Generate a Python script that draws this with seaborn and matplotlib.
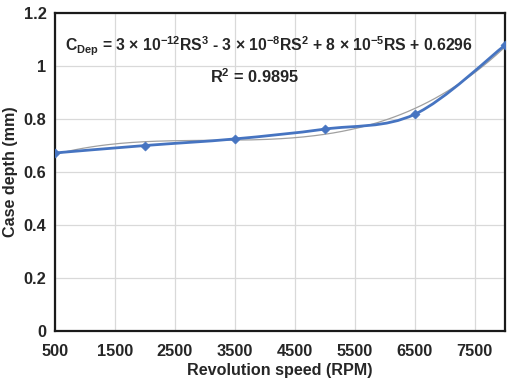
import numpy as np
import pandas as pd
import matplotlib
matplotlib.use("Agg")
import matplotlib.pyplot as plt
import seaborn as sns
from matplotlib.path import Path
from matplotlib.patches import PathPatch

# data
speed = [500, 2000, 3500, 5000, 6500, 8000]
depth = [0.672, 0.700, 0.725, 0.762, 0.818, 1.078]
x_ticks = [500, 1500, 2500, 3500, 4500, 5500, 6500, 7500]
y_ticks = [0, 0.2, 0.4, 0.6, 0.8, 1.0, 1.2]
y_labels = ["0", "0.2", "0.4", "0.6", "0.8", "1", "1.2"]

LINE_COLOR = "#4674C1"

sns.set_theme(style="whitegrid")
plt.rcParams['font.family'] = ['Liberation Sans', 'DejaVu Sans']
plt.rcParams['font.weight'] = 'bold'
plt.rcParams['mathtext.fontset'] = 'custom'
plt.rcParams['mathtext.rm'] = 'Liberation Sans:bold'
plt.rcParams['mathtext.it'] = 'Liberation Sans:bold'
plt.rcParams['mathtext.bf'] = 'Liberation Sans:bold'

df = pd.DataFrame({"Speed": speed, "Depth": depth})

fig = plt.figure(figsize=(5.13, 3.84), dpi=100)
ax = fig.add_axes([0.107, 0.138, 0.877, 0.828])

# cubic trendline (thin gray)
coef = np.polyfit(df["Speed"], df["Depth"], 3)
xs = np.linspace(speed[0], speed[-1], 200)
ax.plot(xs, np.polyval(coef, xs), color="#A0A0A0", lw=0.9, zorder=2)

# smoothed line (Catmull-Rom style bezier like Excel)
pts = np.column_stack([speed, depth]).astype(float)
verts = [tuple(pts[0])]
codes = [Path.MOVETO]
t = 1.0 / 6.0
for i in range(len(pts) - 1):
    p0 = pts[i - 1] if i > 0 else pts[i]
    p1 = pts[i]
    p2 = pts[i + 1]
    p3 = pts[i + 2] if i + 2 < len(pts) else pts[i + 1]
    c1 = p1 + (p2 - p0) * t
    c2 = p2 - (p3 - p1) * t
    verts += [tuple(c1), tuple(c2), tuple(p2)]
    codes += [Path.CURVE4] * 3
ax.add_patch(PathPatch(Path(verts, codes), facecolor="none", edgecolor=LINE_COLOR,
                       lw=2.0, zorder=3))

sns.scatterplot(data=df, x="Speed", y="Depth", ax=ax, marker="D", s=22,
                color=LINE_COLOR, edgecolor=LINE_COLOR, zorder=4, legend=False)

ax.set_xlim(500, 8000)
ax.set_ylim(0, 1.2)
ax.set_xticks(x_ticks)
ax.set_yticks(y_ticks)
ax.set_yticklabels(y_labels)
ax.tick_params(axis="both", labelsize=11.8, length=0)
ax.tick_params(axis="x", pad=9)
ax.tick_params(axis="y", pad=6)
ax.grid(True, color="#D9D9D9", lw=0.9)
for s in ax.spines.values():
    s.set_color("#1A1A1A")
    s.set_linewidth(1.6)

ax.set_xlabel("Revolution speed (RPM)", fontsize=11.6, fontweight="bold", labelpad=3)
ax.set_ylabel("Case depth (mm)", fontsize=11.6, fontweight="bold", labelpad=4)

ax.text(0.022, 0.895,
        r"C$_{\mathregular{Dep}}$ = 3 × 10$^{-12}$RS$^{3}$ - 3 × 10$^{-8}$RS$^{2}$ + 8 × 10$^{-5}$RS + 0.6296",
        transform=ax.transAxes, fontsize=11.3, fontweight="bold", va="center", ha="left")
ax.text(0.345, 0.80, r"R$^{2}$ = 0.9895", transform=ax.transAxes,
        fontsize=11.8, fontweight="bold", va="center", ha="left")

fig.savefig("out.png", dpi=100)
